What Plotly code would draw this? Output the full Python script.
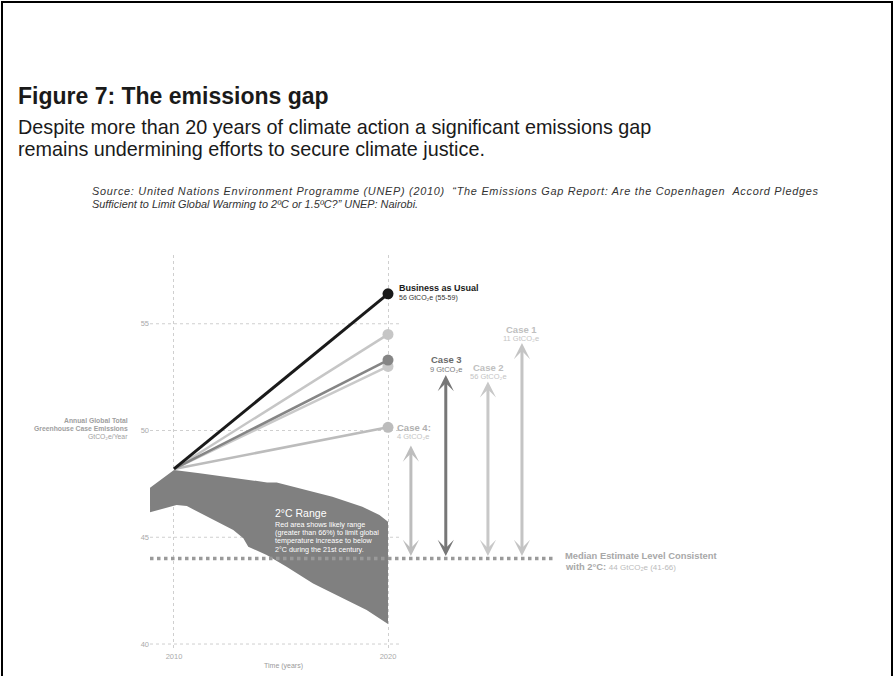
import plotly.graph_objects as go

# ---------------- data ----------------
start_year = 2010
end_year = 2020
start_value = 48.2

line_names = ["Business as Usual", "Case 1", "Case 3", "Case 2", "Case 4"]
line_end_values = [56.4, 54.5, 53.3, 53.0, 50.15]
line_colors = ["#1a1a1a", "#c6c6c6", "#858585", "#c9c9c9", "#bcbcbc"]
line_widths = [3, 2.5, 2.5, 2.5, 2.5]

range_upper_years = [2008.88, 2010.0, 2011.2, 2014.35, 2014.8, 2015.9, 2017.4, 2018.8, 2019.6, 2020.0]
range_upper_values = [47.32, 48.15, 48.0, 47.57, 47.57, 47.29, 46.9, 46.43, 46.04, 45.73]
range_lower_years = [2008.88, 2010.12, 2010.6, 2011.7, 2012.77, 2013.24, 2013.47, 2014.33, 2015.26, 2016.5, 2017.76, 2019.0, 2020.0]
range_lower_values = [46.17, 46.51, 46.46, 45.89, 45.34, 44.95, 44.56, 44.17, 43.62, 42.84, 42.22, 41.59, 40.94]

median_level = 44
case_labels = ["Case 4:", "Case 3", "Case 2", "Case 1"]
case_gaps = ["4 GtCO₂e", "9 GtCO₂e", "56 GtCO₂e", "11 GtCO₂e"]
case_x = [2021.07, 2022.7, 2024.67, 2026.26]
case_top = [49.3, 52.6, 52.3, 54.1]
case_colors = ["#bdbdbd", "#777777", "#c8c8c8", "#c4c4c4"]
case_text_colors = ["#b0b0b0", "#6a6a6a", "#c0c0c0", "#c0c0c0"]

y_ticks = [40, 45, 50, 55]
x_ticks = [2010, 2020]

# ---------------- layout helpers ----------------
L, R, T, B = 150, 880, 255, 650
W, H = 894, 676
X0, X1 = 2008.879, 2042.99
Y0, Y1 = 39.72, 58.22


def px(x):
    return (x - L) / (R - L)


def py(y):
    return (B - y) / (B - T)


def xv(p):
    return X0 + (p - L) / (R - L) * (X1 - X0)


FONT = "Liberation Sans, Arial, sans-serif"

fig = go.Figure()

# 2°C range area
fig.add_trace(go.Scatter(
    x=range_upper_years + range_lower_years[::-1],
    y=range_upper_values + range_lower_values[::-1],
    fill="toself", fillcolor="#808080", mode="lines",
    line=dict(color="#808080", width=0), hoverinfo="skip", showlegend=False))

# emission lines (draw BAU last so it's on top)
order = [1, 3, 4, 2, 0]
for i in order:
    fig.add_trace(go.Scatter(
        x=[start_year, end_year], y=[start_value, line_end_values[i]],
        mode="lines", line=dict(color=line_colors[i], width=line_widths[i]),
        name=line_names[i], showlegend=False))
    fig.add_trace(go.Scatter(
        x=[end_year], y=[line_end_values[i]], mode="markers",
        marker=dict(color=line_colors[i], size=11), showlegend=False))

shapes = []
# horizontal dotted gridlines
for v in y_ticks:
    shapes.append(dict(type="line", xref="x", yref="y", x0=X0, x1=xv(400), y0=v, y1=v,
                       line=dict(color="#cfcfcf", width=1, dash="dot"), layer="below"))
# median line
shapes.append(dict(type="line", xref="x", yref="y", x0=X0, x1=xv(556), y0=median_level, y1=median_level,
                   line=dict(color="#9a9a9a", width=3.5, dash="dot"), layer="above"))
# slide frame
shapes.append(dict(type="rect", xref="paper", yref="paper", x0=px(2), x1=px(892), y0=py(720), y1=py(2),
                   line=dict(color="#000000", width=2), fillcolor="rgba(0,0,0,0)"))

annotations = []
# gap arrows (double-headed)
for i in range(4):
    annotations.append(dict(x=case_x[i], y=case_top[i], ax=case_x[i], ay=median_level + 0.05,
                            xref="x", yref="y", axref="x", ayref="y", text="", showarrow=True,
                            arrowhead=3, arrowside="end+start", arrowsize=0.9, arrowwidth=3,
                            arrowcolor=case_colors[i]))

# case labels
case_label_px = [(395, 427.3, 436.3, "left"), (446, 359.3, 369, "center"),
                 (488, 367, 376, "center"), (521, 329.3, 338, "center")]
for i, (lx, ly1, ly2, anc) in enumerate(case_label_px):
    annotations.append(dict(x=px(lx), y=py(ly1), xref="paper", yref="paper", xanchor=anc, yanchor="middle",
                            text="<b>" + case_labels[i] + "</b>",
                            showarrow=False, font=dict(family=FONT, size=9.5, color=case_text_colors[i])))
    annotations.append(dict(x=px(lx), y=py(ly2), xref="paper", yref="paper", xanchor=anc, yanchor="middle",
                            text=case_gaps[i], showarrow=False,
                            font=dict(family=FONT, size=7.5, color="#7a7a7a" if i == 1 else "#c4c4c4")))

# BAU label
annotations.append(dict(x=px(397), y=py(287.7), xref="paper", yref="paper", xanchor="left", yanchor="middle",
                        text="<b>Business as Usual</b>", showarrow=False,
                        font=dict(family=FONT, size=9, color="#1a1a1a")))
annotations.append(dict(x=px(397), y=py(297.5), xref="paper", yref="paper", xanchor="left", yanchor="middle",
                        text="56 GtCO₂e (55-59)", showarrow=False,
                        font=dict(family=FONT, size=7, color="#333333")))

# median label
annotations.append(dict(x=px(563), y=py(555), xref="paper", yref="paper", xanchor="left", yanchor="middle",
                        text="<b>Median Estimate Level Consistent</b>", showarrow=False,
                        font=dict(family=FONT, size=9.4, color="#a8a8a8")))
annotations.append(dict(x=px(563), y=py(566), xref="paper", yref="paper", xanchor="left", yanchor="middle",
                        text="<b>with 2°C:</b> <span style='font-size:8px;color:#bbbbbb'>44 GtCO₂e (41-66)</span>",
                        showarrow=False, font=dict(family=FONT, size=9.4, color="#a8a8a8")))

# 2°C range text
annotations.append(dict(x=px(273), y=py(512.7), xref="paper", yref="paper", xanchor="left", yanchor="middle",
                        text="2°C Range", showarrow=False, font=dict(family=FONT, size=10.5, color="#ffffff")))
range_lines = ["Red area shows likely range", "(greater than 66%) to limit global",
               "temperature increase to below", "2°C during the 21st century."]
for k, t in enumerate(range_lines):
    annotations.append(dict(x=px(273), y=py(524 + k * 8.45), xref="paper", yref="paper", xanchor="left",
                            yanchor="middle", text=t, showarrow=False,
                            font=dict(family=FONT, size=7.2, color="#ffffff")))

# y axis title
for k, t in enumerate(["Annual Global Total", "Greenhouse Case Emissions", "GtCO₂e/Year"]):
    annotations.append(dict(x=px(130), y=py(420 + k * 8.4), xref="paper", yref="paper", xanchor="right",
                            yanchor="middle", text=("<b>" + t + "</b>") if k < 2 else t, showarrow=False,
                            font=dict(family=FONT, size=6.8, color="#a0a0a0")))
# x axis title
annotations.append(dict(x=px(283), y=py(666), xref="paper", yref="paper", xanchor="center", yanchor="middle",
                        text="Time (years)", showarrow=False, font=dict(family=FONT, size=7, color="#9a9a9a")))

# slide title and subtitle
annotations.append(dict(x=px(16), y=py(96), xref="paper", yref="paper", xanchor="left", yanchor="middle",
                        text="<b>Figure 7: The emissions gap</b>", showarrow=False,
                        font=dict(family=FONT, size=23, color="#1a1a1a")))
annotations.append(dict(x=px(16), y=py(127), xref="paper", yref="paper", xanchor="left", yanchor="middle",
                        text="Despite more than 20 years of climate action a significant emissions gap",
                        showarrow=False, font=dict(family=FONT, size=19.8, color="#1a1a1a")))
annotations.append(dict(x=px(16), y=py(149), xref="paper", yref="paper", xanchor="left", yanchor="middle",
                        text="remains undermining efforts to secure climate justice.",
                        showarrow=False, font=dict(family=FONT, size=19.8, color="#1a1a1a")))
# source
annotations.append(dict(x=px(90), y=py(191), xref="paper", yref="paper", xanchor="left", yanchor="middle",
                        text="<span style='letter-spacing:0.72px'><i>Source: United Nations Environment Programme (UNEP) (2010)  “The Emissions Gap Report: Are the Copenhagen  Accord Pledges</i></span>",
                        showarrow=False, font=dict(family=FONT, size=10.9, color="#333333")))
annotations.append(dict(x=px(90), y=py(204), xref="paper", yref="paper", xanchor="left", yanchor="middle",
                        text="<i>Sufficient to Limit Global Warming to 2ºC or 1.5ºC?” UNEP: Nairobi.</i>",
                        showarrow=False, font=dict(family=FONT, size=10.9, color="#333333")))

fig.update_layout(
    width=W, height=H,
    margin=dict(l=L, r=W - R, t=T, b=H - B, pad=0),
    paper_bgcolor="white", plot_bgcolor="white",
    showlegend=False,
    shapes=shapes, annotations=annotations,
    xaxis=dict(range=[X0, X1], tickvals=x_ticks, ticktext=[str(v) for v in x_ticks],
               showgrid=True, gridcolor="#cfcfcf", griddash="dot", gridwidth=1,
               zeroline=False, showline=False, ticks="",
               tickfont=dict(family=FONT, size=7.5, color="#aaaaaa"), fixedrange=True),
    yaxis=dict(range=[Y0, Y1], tickvals=y_ticks, ticktext=[str(v) for v in y_ticks],
               showgrid=False, zeroline=False, showline=False, ticks="",
               tickfont=dict(family=FONT, size=7.5, color="#aaaaaa"), fixedrange=True),
)

fig.write_html("out.html")
